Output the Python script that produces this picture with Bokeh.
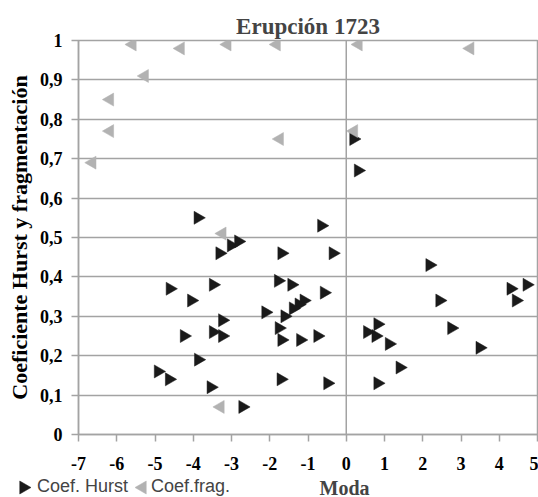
from bokeh.plotting import figure
from bokeh.layouts import column, row
from bokeh.models import Span, Legend, LegendItem, FixedTicker, Label, Range1d
from bokeh.embed import file_html
from bokeh.resources import INLINE
import math

# --- data ---
hurst_x = [-3.88, -0.65, -3.01, -2.82, -3.31, -1.69, -0.35, 0.19, 0.31,
           -4.61, -3.48, -4.05, -1.78, -1.43, -0.58, -1.11, -1.24, -1.39,
           -2.11, -1.61, -3.24, -4.24, -3.48, -3.24, -1.76, -1.69, -1.20,
           -0.75, -3.87, -4.92, -4.63, -3.54, -1.71, -0.49, -2.71,
           2.18, 4.72, 4.30, 4.44, 2.44, 0.82, 0.55, 0.77, 1.12, 2.75,
           3.49, 1.40, 0.82]
hurst_y = [0.55, 0.53, 0.48, 0.49, 0.46, 0.46, 0.46, 0.75, 0.67,
           0.37, 0.38, 0.34, 0.39, 0.38, 0.36, 0.34, 0.33, 0.32,
           0.31, 0.30, 0.29, 0.25, 0.26, 0.25, 0.27, 0.24, 0.24,
           0.25, 0.19, 0.16, 0.14, 0.12, 0.14, 0.13, 0.07,
           0.43, 0.38, 0.37, 0.34, 0.34, 0.28, 0.26, 0.25, 0.23, 0.27,
           0.22, 0.17, 0.13]

frag_x = [-5.59, -4.33, -3.11, -1.82, 0.32, 3.24, -5.27, -6.18, -6.18,
          -6.64, -1.74, 0.20, -3.24, -3.29]
frag_y = [0.99, 0.98, 0.99, 0.99, 0.99, 0.98, 0.91, 0.85, 0.77,
          0.69, 0.75, 0.77, 0.51, 0.07]

x_ticks = [-7, -6, -5, -4, -3, -2, -1, 0, 1, 2, 3, 4, 5]
x_tick_labels = ["-7", "-6", "-5", "-4", "-3", "-2", "-1", "0", "1", "2", "3", "4", "5"]
y_ticks = [0, 0.1, 0.2, 0.3, 0.4, 0.5, 0.6, 0.7, 0.8, 0.9, 1]
y_tick_labels = ["0", "0,1", "0,2", "0,3", "0,4", "0,5", "0,6", "0,7", "0,8", "0,9", "1"]

title_text = "Erupción 1723"
x_label = "Moda"
y_label = "Coeficiente Hurst y fragmentación"
series_names = ["Coef. Hurst", "Coef.frag."]

SERIF = "Liberation Serif"
GRID = "#a3a3a3"
BLACK = "#1a1a1a"
GRAY = "#b2b2b2"
HURST_ANGLE = -math.pi / 2   # right-pointing triangles
FRAG_ANGLE = math.pi / 2     # left-pointing triangles

# --- main chart ---
p = figure(width=538, height=477, output_backend="svg", toolbar_location=None,
           x_range=Range1d(-7, 5), y_range=Range1d(0, 1),
           min_border_left=78, min_border_right=1, min_border_top=40,
           min_border_bottom=43)
p.title.text = title_text
p.title.align = "center"
p.title.text_font = SERIF
p.title.text_font_style = "bold"
p.title.text_font_size = "23px"
p.title.standoff = 4

p.outline_line_color = GRID
p.outline_line_width = 1.5

p.xgrid.visible = False
p.ygrid.ticker = FixedTicker(ticks=y_ticks)
p.ygrid.grid_line_color = GRID
p.ygrid.grid_line_width = 1.5

p.xaxis.ticker = FixedTicker(ticks=x_ticks)
p.xaxis.major_label_overrides = {t: s for t, s in zip(x_ticks, x_tick_labels)}
p.yaxis.ticker = FixedTicker(ticks=y_ticks)
p.yaxis.major_label_overrides = {t: s for t, s in zip(y_ticks, y_tick_labels)}

p.axis.axis_line_color = GRID
p.axis.axis_line_width = 1.5
p.axis.major_tick_line_color = GRID
p.axis.major_tick_line_width = 1.5
p.axis.major_tick_in = 0
p.axis.major_tick_out = 7
p.axis.minor_tick_line_color = None
p.axis.major_label_text_font = SERIF
p.axis.major_label_text_font_style = "bold"
p.axis.major_label_text_font_size = "18px"
p.axis.major_label_text_color = "black"
p.xaxis.major_label_standoff = 15
p.yaxis.major_label_standoff = 9

p.yaxis.axis_label = y_label
p.yaxis.axis_label_text_font = SERIF
p.yaxis.axis_label_text_font_style = "bold"
p.yaxis.axis_label_text_font_size = "22px"
p.yaxis.axis_label_text_color = "black"
p.yaxis.axis_label_standoff = 5

p.add_layout(Span(location=0, dimension="height", line_color=GRID, line_width=1.5))

r_h = p.scatter(hurst_x, hurst_y, marker="triangle", size=13, angle=HURST_ANGLE,
                fill_color=BLACK, line_color=BLACK, line_width=0.5)
r_f = p.scatter(frag_x, frag_y, marker="triangle", size=13, angle=FRAG_ANGLE,
                fill_color=GRAY, line_color=GRAY, line_width=0.5)

# --- bottom strip: legend and x-axis title (strip units are pixels) ---
STRIP_W, STRIP_H = 538, 20
b = figure(width=STRIP_W, height=STRIP_H, output_backend="svg", toolbar_location=None,
           x_range=Range1d(0, STRIP_W), y_range=Range1d(0, STRIP_H),
           x_axis_location=None, y_axis_location=None,
           min_border_left=0, min_border_right=0, min_border_top=0,
           min_border_bottom=0)
b.outline_line_color = None
b.grid.visible = False

# legend keys: right/left pointing triangles (legend swatches ignore angle)
key_x = [23, 142]
key_y = [10, 10]
b.scatter(key_x[:1], key_y[:1], marker="triangle", size=13, angle=HURST_ANGLE,
          fill_color=BLACK, line_color=BLACK, line_width=0.5)
b.scatter(key_x[1:], key_y[1:], marker="triangle", size=13, angle=FRAG_ANGLE,
          fill_color=GRAY, line_color=GRAY, line_width=0.5)

lh = b.scatter(hurst_x, hurst_y, marker="triangle", size=13, alpha=0, visible=False)
lf = b.scatter(frag_x, frag_y, marker="triangle", size=13, alpha=0, visible=False)

legend = Legend(items=[LegendItem(label=series_names[0], renderers=[lh]),
                       LegendItem(label=series_names[1], renderers=[lf])],
                orientation="horizontal", location=(19, 0),
                background_fill_alpha=0, border_line_color=None,
                inactive_fill_alpha=0,
                padding=0, margin=0, spacing=5, glyph_width=14, glyph_height=20,
                label_height=20, label_standoff=4,
                label_text_font="Liberation Sans", label_text_font_size="18px")
b.add_layout(legend, "center")

b.add_layout(Label(x=344, y=10, x_units="screen", y_units="screen", text=x_label,
                   text_font=SERIF, text_font_style="bold", text_font_size="20px",
                   text_align="center", text_baseline="middle"))

layout = column(p, row(b, spacing=0), spacing=0)
open("out.html", "w").write(file_html(layout, INLINE))
